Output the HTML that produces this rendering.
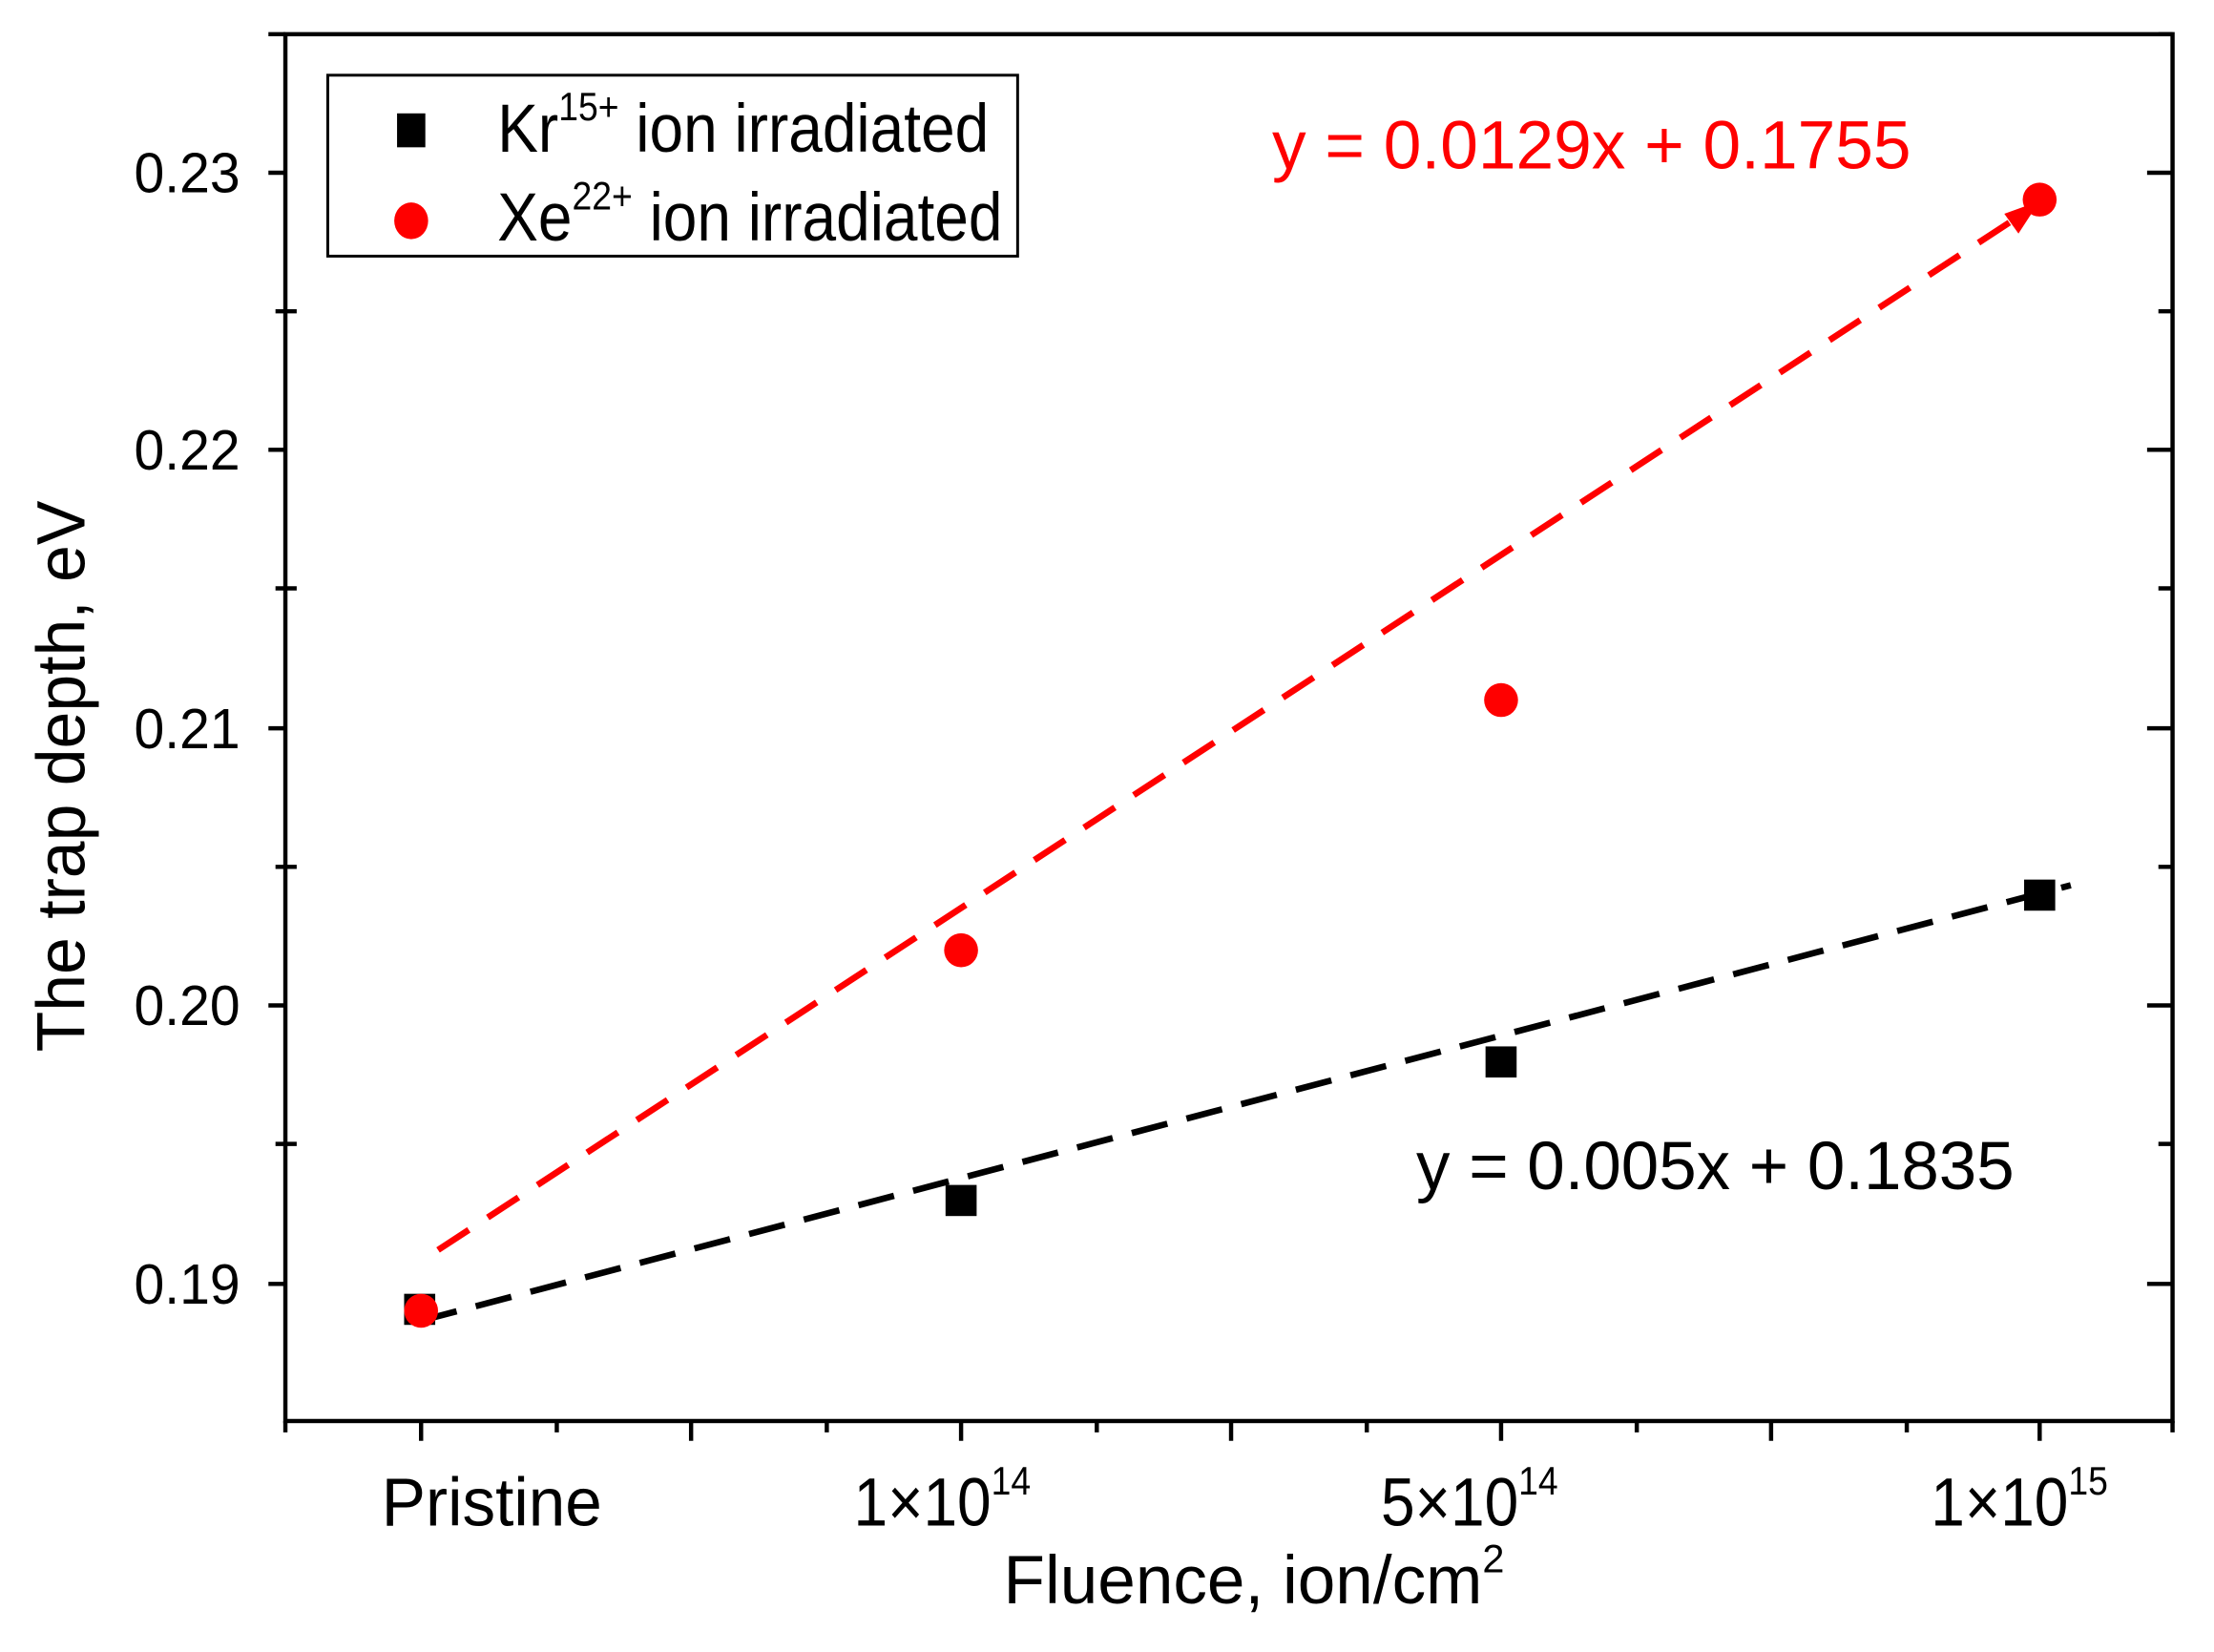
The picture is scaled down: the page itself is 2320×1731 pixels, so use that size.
<!DOCTYPE html>
<html><head><meta charset="utf-8"><style>html,body{margin:0;padding:0;background:#fff}svg{display:block}</style></head>
<body>
<svg width="2320" height="1731" viewBox="0 0 1553 1159" xmlns="http://www.w3.org/2000/svg" font-family="Liberation Sans, DejaVu Sans, sans-serif">
<rect width="1553" height="1159" fill="#fff"/>
<g transform="translate(-0.3,-0.8) scale(0.9918)">
<rect x="202" y="25" width="1335" height="981" fill="none" stroke="#000" stroke-width="3"/>
<g stroke="#000" stroke-width="3">
<path d="M202 25h-12M202 123h-12M202 319h-12M202 516h-12M202 712h-12M202 909h-12 M1537 123h-18M1537 319h-18M1537 516h-18M1537 712h-18M1537 909h-18"/>
<path d="M202 221h-7M202 417h-7M202 614h-7M202 810h-7 M1537 221h-10M1537 417h-10M1537 614h-10M1537 810h-10 M1537 25h-10"/>
<path d="M202 221h8M202 417h8M202 614h8M202 810h8"/>
<path d="M298 1006v14M489 1006v14M680 1006v14M871 1006v14M1062 1006v14M1253 1006v14M1443 1006v14"/>
<path d="M202 1006v8M394 1006v8M585 1006v8M776 1006v8M967 1006v8M1158 1006v8M1349 1006v8M1537 1006v8"/>
</g>
<g font-size="40" fill="#000">
<text x="95" y="137" textLength="75" lengthAdjust="spacingAndGlyphs">0.23</text>
<text x="95" y="333" textLength="75" lengthAdjust="spacingAndGlyphs">0.22</text>
<text x="95" y="530" textLength="75" lengthAdjust="spacingAndGlyphs">0.21</text>
<text x="95" y="726" textLength="75" lengthAdjust="spacingAndGlyphs">0.20</text>
<text x="95" y="923" textLength="75" lengthAdjust="spacingAndGlyphs">0.19</text>
</g>
<g font-size="48" fill="#000">
<text x="270" y="1080" textLength="156" lengthAdjust="spacingAndGlyphs">Pristine</text>
<text transform="translate(604,1080) scale(0.9,1)">1×10<tspan font-size="28" dy="-22">14</tspan></text>
<text transform="translate(977,1080) scale(0.9,1)">5×10<tspan font-size="28" dy="-22">14</tspan></text>
<text transform="translate(1366,1080) scale(0.9,1)">1×10<tspan font-size="28" dy="-22">15</tspan></text>
<text transform="translate(710,1135)">Fluence, ion/cm<tspan font-size="28" dy="-22">2</tspan></text>
</g>
<text transform="translate(60,745) rotate(-90)" font-size="48" fill="#000" textLength="390" lengthAdjust="spacingAndGlyphs">The trap depth, eV</text>
<line x1="310" y1="885" x2="1425" y2="156" stroke="#f00" stroke-width="4.5" stroke-dasharray="26,16"/>
<polygon points="1443,143 1418,152 1428,166" fill="#f00"/>
<line x1="298" y1="935" x2="1465" y2="627" stroke="#000" stroke-width="4.5" stroke-dasharray="26,14"/>
<g fill="#000">
<rect x="286" y="916" width="22" height="22"/>
<rect x="669" y="839" width="22" height="22"/>
<rect x="1051" y="741" width="22" height="22"/>
<rect x="1432" y="623" width="22" height="22"/>
</g>
<g fill="#f00">
<circle cx="298" cy="928" r="12"/>
<circle cx="680" cy="673" r="12"/>
<circle cx="1062" cy="496" r="12"/>
<circle cx="1443" cy="142" r="12"/>
</g>
<text x="900" y="120" font-size="48" fill="#f00" textLength="452" lengthAdjust="spacingAndGlyphs">y = 0.0129x + 0.1755</text>
<text x="1002" y="842" font-size="48" fill="#000" textLength="423" lengthAdjust="spacingAndGlyphs">y = 0.005x + 0.1835</text>
<rect x="232" y="54" width="488" height="128" fill="#fff" stroke="#000" stroke-width="2"/>
<rect x="281" y="81" width="20" height="24" fill="#000"/>
<ellipse cx="291" cy="157" rx="12" ry="13" fill="#f00"/>
<text transform="translate(352,108) scale(0.9,1)" font-size="48" fill="#000">Kr<tspan font-size="28" dy="-22">15+</tspan><tspan dy="22"> ion irradiated</tspan></text>
<text transform="translate(352,171) scale(0.9,1)" font-size="48" fill="#000">Xe<tspan font-size="28" dy="-22">22+</tspan><tspan dy="22"> ion irradiated</tspan></text>
</g>
</svg>
</body></html>
